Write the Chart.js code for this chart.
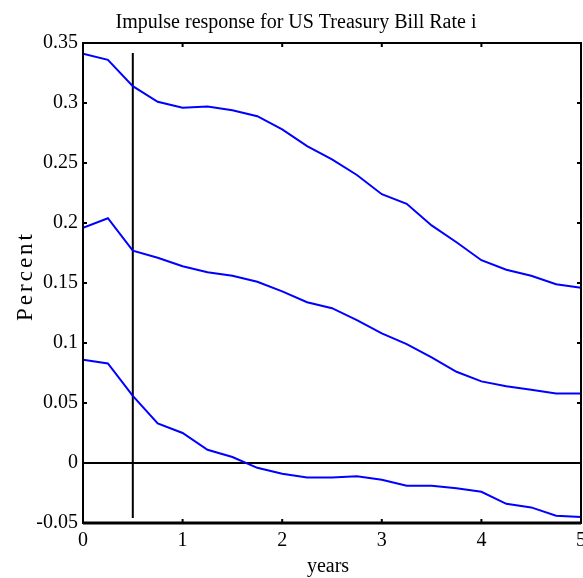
<!DOCTYPE html>
<html>
<head>
<meta charset="utf-8">
<script src="https://cdn.jsdelivr.net/npm/chart.js@4"></script>
<style>
    html, body { margin: 0; padding: 0; background: #fff; }
    canvas { display: block; }
</style>
</head>
<body>
<canvas id="irfChart" width="583" height="578"></canvas>
<script>
// Horizon in years (quarterly steps)
const years = [0, 0.25, 0.5, 0.75, 1, 1.25, 1.5, 1.75, 2, 2.25, 2.5, 2.75, 3, 3.25, 3.5, 3.75, 4, 4.25, 4.5, 4.75, 5];

// Upper band, point estimate, lower band
const upperBand = [0.341, 0.336, 0.314, 0.301, 0.296, 0.297, 0.294, 0.289, 0.278, 0.264, 0.253, 0.240, 0.224, 0.216, 0.198, 0.184, 0.169, 0.161, 0.156, 0.149, 0.146];
const response = [0.196, 0.204, 0.177, 0.171, 0.164, 0.159, 0.156, 0.151, 0.143, 0.134, 0.129, 0.119, 0.108, 0.099, 0.088, 0.076, 0.068, 0.064, 0.061, 0.058, 0.058];
const lowerBand = [0.086, 0.083, 0.056, 0.033, 0.025, 0.011, 0.005, -0.004, -0.009, -0.012, -0.012, -0.011, -0.014, -0.019, -0.019, -0.021, -0.024, -0.034, -0.037, -0.044, -0.045];

// Reference lines
const markerYear = [0.5, 0.5];
const markerValue = [0.3417, -0.0458];
const zeroYear = [0, 5];
const zeroValue = [0, 0];

// Tick labels
const xTicks = [0, 1, 2, 3, 4, 5];
const yTicks = [-0.05, 0, 0.05, 0.1, 0.15, 0.2, 0.25, 0.3, 0.35];

const FONT = 'Liberation Serif, Times New Roman, serif';

function toPoints(xs, ys) {
    return xs.map((x, i) => ({ x: x, y: ys[i] }));
}

function lineSet(data, color, width) {
    return {
        data: data,
        borderColor: color,
        borderWidth: width,
        pointRadius: 0,
        tension: 0,
        fill: false
    };
}

// Frame, inward ticks and the text around the plot
const framePlugin = {
    id: 'frame',
    afterDraw(chart) {
        const ctx = chart.ctx;
        const a = chart.chartArea;
        const xs = chart.scales.x;
        const ys = chart.scales.y;
        ctx.save();
        ctx.strokeStyle = '#000';
        ctx.lineWidth = 2;
        ctx.strokeRect(a.left, a.top, a.right - a.left, a.bottom - a.top);
        ctx.lineWidth = 3;
        ctx.beginPath();
        ctx.moveTo(a.left, a.bottom);
        ctx.lineTo(a.right, a.bottom);
        ctx.stroke();

        ctx.lineWidth = 2;
        ctx.beginPath();
        xTicks.forEach(v => {
            const px = xs.getPixelForValue(v);
            ctx.moveTo(px, a.top);
            ctx.lineTo(px, a.top + 4);
            ctx.moveTo(px, a.bottom);
            ctx.lineTo(px, a.bottom - 4);
        });
        yTicks.forEach(v => {
            const py = ys.getPixelForValue(v);
            ctx.moveTo(a.left, py);
            ctx.lineTo(a.left + 4, py);
            ctx.moveTo(a.right, py);
            ctx.lineTo(a.right - 4, py);
        });
        ctx.stroke();

        ctx.fillStyle = '#000';
        ctx.font = '20px ' + FONT;
        ctx.textAlign = 'center';
        ctx.textBaseline = 'alphabetic';
        ctx.fillText('Impulse response for US Treasury Bill Rate i', 296, 28);
        ctx.fillText('years', 328, 572);

        ctx.translate(32, 277);
        ctx.rotate(-Math.PI / 2);
        ctx.font = '23px ' + FONT;
        ctx.letterSpacing = '3px';
        ctx.fillText('Percent', 1, 0);
        ctx.restore();
    }
};

const chart = new Chart(document.getElementById('irfChart'), {
    type: 'line',
    data: {
        datasets: [
            lineSet(toPoints(years, upperBand), '#0000ff', 2),
            lineSet(toPoints(years, response), '#0000ff', 2),
            lineSet(toPoints(years, lowerBand), '#0000ff', 2),
            lineSet(toPoints(zeroYear, zeroValue), '#000000', 2),
            lineSet(toPoints(markerYear, markerValue), '#000000', 2)
        ]
    },
    options: {
        responsive: false,
        animation: false,
        layout: { padding: { top: 43, right: 2, left: 0, bottom: 0 } },
        plugins: {
            legend: { display: false },
            title: { display: false },
            tooltip: { enabled: false }
        },
        scales: {
            x: {
                type: 'linear',
                min: 0,
                max: 5,
                grid: { display: false, drawTicks: false },
                border: { display: false },
                afterBuildTicks: scale => { scale.ticks = xTicks.map(v => ({ value: v })); },
                afterFit: scale => {
                    scale.height = 55;
                    scale.paddingLeft = 0;
                    scale.paddingRight = 0;
                },
                ticks: {
                    autoSkip: false,
                    maxRotation: 0,
                    padding: 6,
                    color: '#000',
                    font: { family: FONT, size: 20 },
                    callback: v => String(v)
                }
            },
            y: {
                type: 'linear',
                min: -0.05,
                max: 0.35,
                grid: { display: false, drawTicks: false },
                border: { display: false },
                afterBuildTicks: scale => { scale.ticks = yTicks.map(v => ({ value: v })); },
                afterFit: scale => {
                    scale.width = 83;
                    scale.paddingTop = 0;
                    scale.paddingBottom = 0;
                },
                ticks: {
                    autoSkip: false,
                    padding: 5,
                    color: '#000',
                    font: { family: FONT, size: 20 },
                    callback: v => String(Math.round(v * 100) / 100)
                }
            }
        }
    },
    plugins: [framePlugin]
});
</script>
</body>
</html>
